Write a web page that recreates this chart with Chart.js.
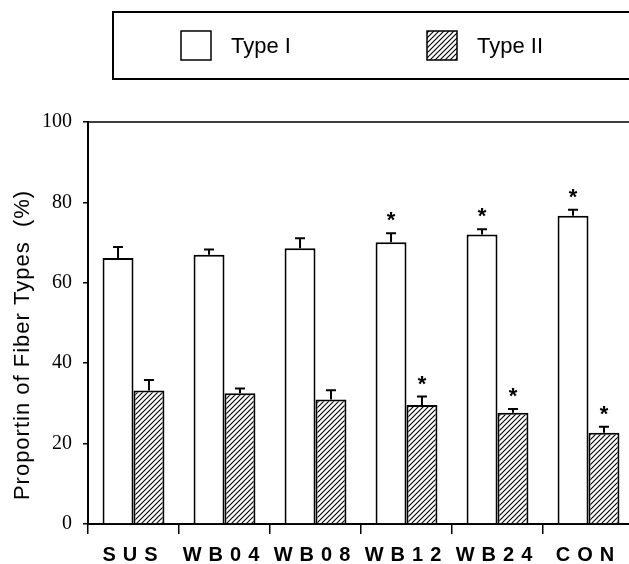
<!DOCTYPE html>
<html>
<head>
<meta charset="utf-8">
<script src="https://cdn.jsdelivr.net/npm/chart.js@4"></script>
<style>
html, body { margin: 0; padding: 0; overflow: hidden; background: #fff; }
</style>
</head>
<body>
<canvas id="myChart" width="660" height="564"></canvas>
<script>
// data
var groups = ['SUS', 'WB04', 'WB08', 'WB12', 'WB24', 'CON'];
var seriesNames = ['Type I', 'Type II'];
var typeI = [66.2, 67.0, 68.6, 70.1, 72.0, 76.7];
var typeIErr = [2.7, 1.3, 2.5, 2.2, 1.3, 1.5];
var typeII = [33.2, 32.5, 31.0, 29.6, 27.7, 22.7];
var typeIIErr = [2.6, 1.2, 2.3, 2.1, 0.9, 1.5];
var typeISig = [false, false, false, true, true, true];
var typeIISig = [false, false, false, true, true, true];
var yTicks = [0, 20, 40, 60, 80, 100];
var yTitle = 'Proportin of Fiber Types  (%)';

var canvas = document.getElementById('myChart');
var ctx = canvas.getContext('2d');

//diagonal hatch for Type II
function makeHatch() {
	var s = 5;
	var c = document.createElement('canvas');
	c.width = s; c.height = s;
	var g = c.getContext('2d');
	g.fillStyle = '#fff';
	g.fillRect(0, 0, s, s);
	g.strokeStyle = '#000';
	g.lineWidth = 1.1;
	g.beginPath();
	g.moveTo(-1, s + 1); g.lineTo(s + 1, -1);
	g.moveTo(-1, 1); g.lineTo(1, -1);
	g.moveTo(s - 1, s + 1); g.lineTo(s + 1, s - 1);
	g.stroke();
	return ctx.createPattern(c, 'repeat');
}
var hatch = makeHatch();
var fills = ['#fff', hatch];

//error bars (upward only) and significance stars
var errorBars = {
	id: 'errorBars',
	afterDatasetsDraw: function(chart) {
		var c = chart.ctx, y = chart.scales.y;
		var errs = [typeIErr, typeIIErr], sigs = [typeISig, typeIISig];
		c.save();
		c.strokeStyle = '#000';
		c.lineWidth = 2;
		c.fillStyle = '#000';
		c.font = 'bold 22px "Liberation Sans"';
		c.textAlign = 'center';
		chart.data.datasets.forEach(function(ds, i) {
			chart.getDatasetMeta(i).data.forEach(function(bar, j) {
				var top = y.getPixelForValue(ds.data[j] + errs[i][j]);
				c.beginPath();
				c.moveTo(bar.x, bar.y); c.lineTo(bar.x, top);
				c.moveTo(bar.x - 5, top); c.lineTo(bar.x + 5, top);
				c.stroke();
				if (sigs[i][j]) c.fillText('*', bar.x, top - 6);
			});
		});
		c.restore();
	}
};

//top frame line, y title and boxed legend
var frame = {
	id: 'frame',
	afterDraw: function(chart) {
		var c = chart.ctx, a = chart.chartArea;
		c.save();
		c.strokeStyle = '#000';
		c.lineWidth = 1.5;
		c.beginPath();
		c.moveTo(a.left, a.top); c.lineTo(chart.width, a.top);
		c.stroke();

		//axis title sits a little below the middle of the axis
		c.save();
		c.translate(23, (a.top + a.bottom) / 2 + 22);
		c.rotate(-Math.PI / 2);
		c.font = '22px "Liberation Sans"';
		c.letterSpacing = '1px';
		c.textAlign = 'center';
		c.textBaseline = 'middle';
		c.fillStyle = '#000';
		c.fillText(yTitle, 0, 0);
		c.restore();

		c.lineWidth = 2;
		c.strokeRect(113, 12, chart.width, 67);
		var itemX = [181, 427];
		c.font = '22px "Liberation Sans"';
		c.textBaseline = 'alphabetic';
		chart.data.datasets.forEach(function(ds, i) {
			c.fillStyle = ds.backgroundColor;
			c.fillRect(itemX[i], 31, 30, 29);
			c.lineWidth = 1.5;
			c.strokeRect(itemX[i], 31, 30, 29);
			c.fillStyle = '#000';
			c.fillText(ds.label, itemX[i] + 50, 53);
		});
		c.restore();
	}
};

//spread out the letters of the group names
var spacedLabels = {
	id: 'spacedLabels',
	beforeDraw: function(chart) {
		var s = chart.scales.x;
		if (s._spaced) return;
		var orig = s.drawLabels;
		s.drawLabels = function(area) {
			this.ctx.save();
			this.ctx.letterSpacing = '7px';
			orig.call(this, area);
			this.ctx.restore();
		};
		s._spaced = true;
	}
};

var fiberChart = new Chart(ctx, {
	type: 'bar',
	data: {
		labels: groups,
		datasets: [{
			label: seriesNames[0],
			data: typeI,
			backgroundColor: fills[0],
			borderColor: '#000',
			borderWidth: 2,
			categoryPercentage: 0.68,
			barPercentage: 1.0
		}, {
			label: seriesNames[1],
			data: typeII,
			backgroundColor: fills[1],
			borderColor: '#000',
			borderWidth: 2,
			categoryPercentage: 0.68,
			barPercentage: 1.0
		}]
	},
	options: {
		responsive: false,
		animation: false,
		layout: { padding: { top: 122, right: 26, left: 0, bottom: 0 } },
		plugins: {
			legend: { display: false },
			tooltip: { enabled: false }
		},
		scales: {
			x: {
				grid: { drawOnChartArea: false, offset: true, tickLength: 10, color: '#000', lineWidth: 1.5 },
				border: { color: '#000', width: 2 },
				ticks: { color: '#000', padding: 9, font: { family: 'Liberation Sans', size: 20, weight: 'bold' } },
				afterFit: function(s) { s.height = 40; }
			},
			y: {
				min: 0,
				max: 100,
				afterBuildTicks: function(s) { s.ticks = yTicks.map(function(v) { return { value: v }; }); },
				grid: { drawOnChartArea: false, tickLength: 5, color: '#000', lineWidth: 1.5 },
				border: { color: '#000', width: 2 },
				ticks: { color: '#000', padding: 11, font: { family: 'Liberation Serif', size: 20 } },
				afterFit: function(s) { s.width = 88; }
			}
		}
	},
	plugins: [errorBars, frame, spacedLabels]
});
</script>
</body>
</html>
